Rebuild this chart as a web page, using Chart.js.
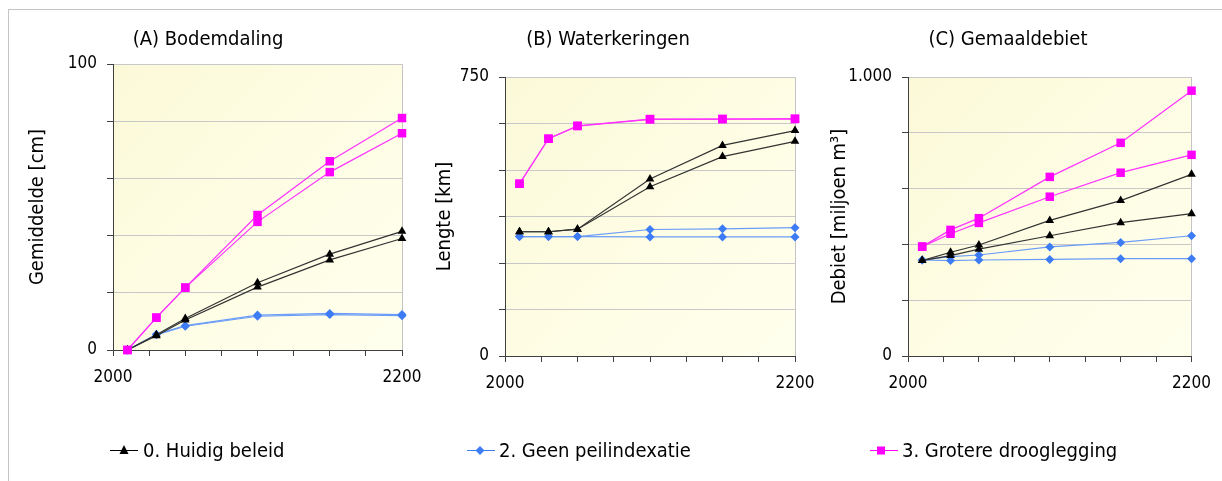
<!DOCTYPE html>
<html>
<head>
<meta charset="utf-8">
<script src="https://cdn.jsdelivr.net/npm/chart.js@4.4.1/dist/chart.umd.min.js"></script>
<style>
  html, body { margin: 0; padding: 0; background: #fff; }
  #wrap { position: relative; width: 1222px; height: 481px; overflow: hidden; }
  #wrap canvas, #wrap svg { position: absolute; left: 0; top: 0; }
  #frame { position: absolute; left: 8px; top: 9px; width: 1300px; height: 600px;
           border-left: 1px solid #c4c4c4; border-top: 1px solid #c4c4c4; }
  #legend text { font-family: 'DejaVu Sans Condensed', 'DejaVu Sans', sans-serif; font-size: 20px; fill: #000; }
</style>
</head>
<body>
<div id="wrap">
  <div id="frame"></div>
  <canvas id="chartA" width="1222" height="481"></canvas>
  <canvas id="chartB" width="1222" height="481"></canvas>
  <canvas id="chartC" width="1222" height="481"></canvas>
  <svg id="legend" width="1222" height="481">
    <line x1="110" y1="450.5" x2="138" y2="450.5" stroke="#000" stroke-width="1"/>
    <polygon points="124,445 128.5,454 119.5,454" fill="#000"/>
    <text x="143" y="457">0. Huidig beleid</text>
    <line x1="467" y1="450.5" x2="495" y2="450.5" stroke="#3d7cf5" stroke-width="1"/>
    <polygon points="480,446 484.5,450.5 480,455 475.5,450.5" fill="#3d7cf5"/>
    <text x="499" y="457">2. Geen peilindexatie</text>
    <line x1="870" y1="450.5" x2="898" y2="450.5" stroke="#ff00ff" stroke-width="1"/>
    <rect x="877" y="446.5" width="8" height="8" fill="#ff00ff"/>
    <text x="902" y="457">3. Grotere drooglegging</text>
  </svg>
</div>
<script>
// zichtjaren
const years = [2010, 2030, 2050, 2100, 2150, 2200];

// (A) Bodemdaling, gemiddelde [cm]
const bodemBeleidA = [0, 5.3, 11, 23.5, 33.5, 41.5];
const bodemBeleidB = [0, 5, 10.5, 22, 31.5, 39];
const bodemPeilA = [0, 5.5, 8.5, 12.2, 12.8, 12.4];
const bodemPeilB = [0, 5.3, 8.3, 11.8, 12.4, 12.0];
const bodemDroogA = [0, 11.3, 21.8, 47.2, 66, 81.1];
const bodemDroogB = [0, 11.3, 21.8, 44.8, 62.2, 75.8];

// (B) Waterkeringen, lengte [km]
const keringBeleidA = [334, 334, 341, 476, 566, 606];
const keringBeleidB = [334, 334, 341, 455, 536, 577];
const keringPeilA = [321, 321, 321, 340, 342, 345];
const keringPeilB = [321, 321, 321, 320, 320, 320];
const keringDroogA = [463, 584, 619, 637, 637, 638];
const keringDroogB = [463, 584, 618, 636, 637, 637];

// (C) Gemaaldebiet [miljoen m3]
const debietBeleidA = [342, 372, 398, 486, 557, 651];
const debietBeleidB = [342, 360, 383, 431, 478, 510];
const debietPeilA = [344, 356, 362, 391, 407, 431];
const debietPeilB = [344, 342, 344, 346, 349, 349];
const debietDroogA = [392, 452, 494, 642, 764, 951];
const debietDroogB = [392, 438, 477, 571, 657, 721];

const FONT = "'DejaVu Sans Condensed', 'DejaVu Sans', sans-serif";
Chart.defaults.font.family = FONT;
Chart.defaults.color = '#000';

const styles = {
  droog: { color: '#ff00ff', line: '#ff33ff', pointStyle: 'rect', radius: 6 },
  beleid: { color: '#000000', line: '#333333', pointStyle: 'triangle', radius: 5 },
  peil: { color: '#3d7cf5', line: '#6a9cf8', pointStyle: 'rectRot', radius: 4.5 }
};

// lichtgele achtergrond van het plotvlak
const plotBg = {
  id: 'plotBg',
  beforeDraw(chart) {
    const { ctx, chartArea: a } = chart;
    const g = ctx.createLinearGradient(a.left, a.top, a.right, a.bottom);
    g.addColorStop(0, '#fbf9d8');
    g.addColorStop(0.5, '#fefde4');
    g.addColorStop(1, '#ffffee');
    ctx.save();
    ctx.fillStyle = g;
    ctx.fillRect(a.left, a.top, a.right - a.left, a.bottom - a.top);
    ctx.restore();
  }
};

function series(kind, values) {
  const s = styles[kind];
  return {
    data: values.map((v, i) => ({ x: years[i], y: v })),
    borderColor: s.line,
    borderWidth: 1.2,
    backgroundColor: s.color,
    pointBackgroundColor: s.color,
    pointBorderColor: s.color,
    pointBorderWidth: 0,
    pointStyle: s.pointStyle,
    pointRadius: s.radius,
    tension: 0,
    clip: false
  };
}

function dotted(v) {
  return String(v).replace(/\B(?=(\d{3})+(?!\d))/g, '.');
}

function makePanel(id, p) {
  return new Chart(document.getElementById(id), {
    type: 'line',
    data: {
      datasets: [
        series('droog', p.droog[0]), series('droog', p.droog[1]),
        series('beleid', p.beleid[0]), series('beleid', p.beleid[1]),
        series('peil', p.peil[0]), series('peil', p.peil[1])
      ]
    },
    options: {
      responsive: false,
      animation: false,
      events: [],
      layout: { padding: { left: p.padLeft, right: p.padRight, top: 28, bottom: p.padBottom } },
      plugins: {
        legend: { display: false },
        tooltip: { enabled: false },
        title: {
          display: true,
          text: p.title,
          font: { size: 20, weight: 'normal' },
          padding: { top: 0, bottom: p.titleGap }
        }
      },
      scales: {
        x: {
          type: 'linear',
          min: 2000,
          max: 2200,
          afterFit(scale) { scale.height = 50; },
          ticks: {
            stepSize: 25,
            autoSkip: false,
            maxRotation: 0,
            padding: 11,
            font: { size: 17 },
            callback: v => (v === 2000 || v === 2200) ? String(v) : ''
          },
          grid: {
            drawOnChartArea: true,
            color: c => (c.tick && c.tick.value === 2200) ? '#c4c4c4' : 'rgba(0,0,0,0)',
            tickColor: '#404040',
            tickLength: 6
          },
          border: { display: true, color: '#404040', width: 1 }
        },
        y: {
          min: 0,
          max: p.yMax,
          afterFit(scale) { scale.width = p.yWidth; },
          ticks: {
            stepSize: p.yStep,
            autoSkip: false,
            padding: 10,
            font: { size: 17 },
            callback: v => (v === 0 || v === p.yMax) ? dotted(v) : ''
          },
          grid: { color: '#c8c8c8', tickColor: '#404040', tickLength: 6 },
          border: { display: true, color: '#404040', width: 1 },
          title: {
            display: true,
            text: p.yTitle,
            font: { size: 20 },
            padding: { top: p.yTitlePad, bottom: 0 }
          }
        }
      }
    },
    plugins: [plotBg]
  });
}

makePanel('chartA', {
  title: '(A) Bodemdaling',
  yTitle: 'Gemiddelde [cm]',
  yMax: 100, yStep: 20,
  padLeft: 14, padRight: 820, yWidth: 99, yTitlePad: 12,
  titleGap: 12, padBottom: 81,
  beleid: [bodemBeleidA, bodemBeleidB],
  peil: [bodemPeilA, bodemPeilB],
  droog: [bodemDroogA, bodemDroogB]
});

makePanel('chartB', {
  title: '(B) Waterkeringen',
  yTitle: 'Lengte [km]',
  yMax: 750, yStep: 125,
  padLeft: 421, padRight: 427, yWidth: 84, yTitlePad: 12,
  titleGap: 25, padBottom: 75,
  beleid: [keringBeleidA, keringBeleidB],
  peil: [keringPeilA, keringPeilB],
  droog: [keringDroogA, keringDroogB]
});

makePanel('chartC', {
  title: '(C) Gemaaldebiet',
  yTitle: 'Debiet [miljoen m³]',
  yMax: 1000, yStep: 200,
  padLeft: 823, padRight: 29, yWidth: 85, yTitlePad: 5,
  titleGap: 25, padBottom: 75,
  beleid: [debietBeleidA, debietBeleidB],
  peil: [debietPeilA, debietPeilB],
  droog: [debietDroogA, debietDroogB]
});
</script>
</body>
</html>
